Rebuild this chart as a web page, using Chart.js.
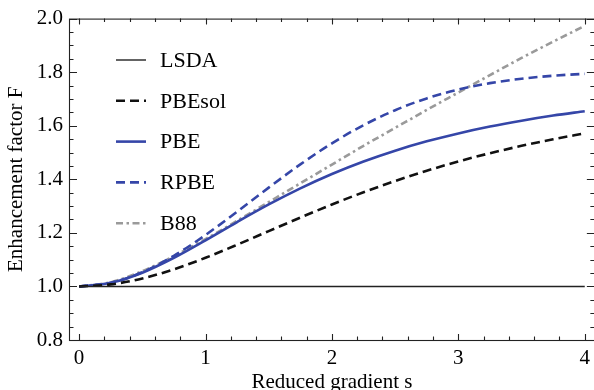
<!DOCTYPE html>
<html>
<head>
<meta charset="utf-8">
<script src="https://cdn.jsdelivr.net/npm/chart.js@4"></script>
<style>
  html, body { margin: 0; padding: 0; background: #fff; }
  #wrap { width: 594px; height: 390px; overflow: hidden; position: relative; }
  canvas { display: block; }
</style>
</head>
<body>
<div id="wrap"><canvas id="chart" width="596" height="390" style="width:596px;height:390px"></canvas></div>
<script>
// Exchange enhancement factors vs reduced gradient

const sValues = [0, 0.25, 0.5, 0.75, 1, 1.25, 1.5, 1.75, 2, 2.25, 2.5, 2.75, 3, 3.25, 3.5, 3.75, 4];
const lsda   = [1, 1, 1, 1, 1, 1, 1, 1, 1, 1, 1, 1, 1, 1, 1, 1, 1];
const pbesol = [1.0, 1.0076, 1.0297, 1.0639, 1.1070, 1.1556, 1.2065, 1.2572, 1.3059, 1.3517, 1.3937, 1.4320, 1.4665, 1.4974, 1.5249, 1.5495, 1.5714];
const pbe    = [1.0, 1.0135, 1.0514, 1.1070, 1.1724, 1.2404, 1.3060, 1.3661, 1.4197, 1.4665, 1.5069, 1.5417, 1.5714, 1.5970, 1.6189, 1.6379, 1.6542];
const rpbe   = [1.0, 1.0136, 1.0530, 1.1145, 1.1921, 1.2792, 1.3690, 1.4556, 1.5342, 1.6022, 1.6580, 1.7020, 1.7351, 1.7590, 1.7756, 1.7867, 1.7938];
const b88    = [1.0, 1.016, 1.057, 1.113, 1.177, 1.245, 1.315, 1.385, 1.455, 1.525, 1.592, 1.659, 1.724, 1.789, 1.853, 1.914, 1.973];

const xTicks = [0, 1, 2, 3, 4];
const yTicks = [0.8, 1.0, 1.2, 1.4, 1.6, 1.8, 2.0];

const serif = 'Liberation Serif';
const blue = '#3546a8';

function pts(ys) {
    return sValues.map((s, i) => ({ x: s, y: ys[i] }));
}

// Mathematica-like frame with inward ticks on all four sides
const framePlugin = {
    id: 'frame',
    beforeDatasetsDraw(chart) {
        const { ctx, chartArea: a, scales: { x, y } } = chart;
        ctx.save();
        ctx.strokeStyle = '#222';
        ctx.lineWidth = 1.1;
        ctx.strokeRect(a.left + 0.5, a.top + 0.5, a.right - a.left, a.bottom - a.top);
        ctx.beginPath();
        for (let i = 0; i <= 20; i++) {
            const v = i * 0.2;
            const px = Math.round(x.getPixelForValue(v)) + 0.5;
            const len = i % 5 === 0 ? 6 : 3.5;
            ctx.moveTo(px, a.bottom); ctx.lineTo(px, a.bottom - len);
            ctx.moveTo(px, a.top); ctx.lineTo(px, a.top + len);
        }
        for (let i = 0; i <= 24; i++) {
            const v = 0.8 + i * 0.05;
            const py = Math.round(y.getPixelForValue(v)) + 0.5;
            const len = i % 4 === 0 ? 8 : 4.5;
            ctx.moveTo(a.left, py); ctx.lineTo(a.left + len, py);
            ctx.moveTo(a.right, py); ctx.lineTo(a.right - len, py);
        }
        ctx.stroke();
        ctx.restore();
    }
};

// Legend drawn inside the plot area, upper left
const insideLegend = {
    id: 'insideLegend',
    afterDatasetsDraw(chart) {
        const { ctx } = chart;
        ctx.save();
        ctx.font = '22px "' + serif + '"';
        ctx.textBaseline = 'middle';
        ctx.fillStyle = '#000';
        chart.data.datasets.forEach((ds, i) => {
            const yy = 60 + i * 40.8;
            ctx.strokeStyle = ds.borderColor;
            ctx.lineWidth = ds.borderWidth;
            ctx.setLineDash(ds.borderDash || []);
            ctx.beginPath();
            ctx.moveTo(116, yy);
            ctx.lineTo(146, yy);
            ctx.stroke();
            ctx.setLineDash([]);
            ctx.fillText(ds.label, 160, yy + 1);
        });
        ctx.restore();
    }
};

new Chart(document.getElementById('chart'), {
    type: 'line',
    data: {
        datasets: [
            { label: 'LSDA', data: pts(lsda), borderColor: '#222', borderWidth: 1.4 },
            { label: 'PBEsol', data: pts(pbesol), borderColor: '#111', borderWidth: 2.6, borderDash: [9, 5] },
            { label: 'PBE', data: pts(pbe), borderColor: blue, borderWidth: 2.6 },
            { label: 'RPBE', data: pts(rpbe), borderColor: blue, borderWidth: 2.6, borderDash: [9, 5] },
            { label: 'B88', data: pts(b88), borderColor: '#9a9a9a', borderWidth: 2.6, borderDash: [7, 3.5, 2.5, 3.5] }
        ]
    },
    options: {
        responsive: false,
        animation: false,
        devicePixelRatio: 1,
        layout: { padding: { left: 1, right: 0, top: 13, bottom: 0 } },
        elements: {
            point: { radius: 0 },
            line: { cubicInterpolationMode: 'monotone', fill: false }
        },
        plugins: { legend: { display: false }, tooltip: { enabled: false } },
        scales: {
            x: {
                type: 'linear',
                min: -0.08,
                max: 4.08,
                afterBuildTicks: axis => { axis.ticks = xTicks.map(v => ({ value: v })); },
                afterFit: axis => { axis.height = 50; },
                grid: { display: false, drawTicks: false },
                border: { display: false },
                ticks: { color: '#000', font: { family: serif, size: 21 }, padding: 6, maxRotation: 0 },
                title: { display: true, text: 'Reduced gradient s', color: '#000',
                         font: { family: serif, size: 21, lineHeight: 1 }, padding: { top: 0, bottom: -3 } }
            },
            y: {
                min: 0.8,
                max: 2.0,
                afterBuildTicks: axis => { axis.ticks = yTicks.map(v => ({ value: v })); },
                afterFit: axis => { axis.width = 68; },
                grid: { display: false, drawTicks: false },
                border: { display: false },
                ticks: { color: '#000', font: { family: serif, size: 21 }, padding: 6,
                         callback: v => v.toFixed(1) },
                title: { display: true, text: 'Enhancement factor F', color: '#000',
                         font: { family: serif, size: 21, lineHeight: 1 }, padding: { top: 5, bottom: 0 } }
            }
        }
    },
    plugins: [framePlugin, insideLegend]
});
</script>
</body>
</html>
